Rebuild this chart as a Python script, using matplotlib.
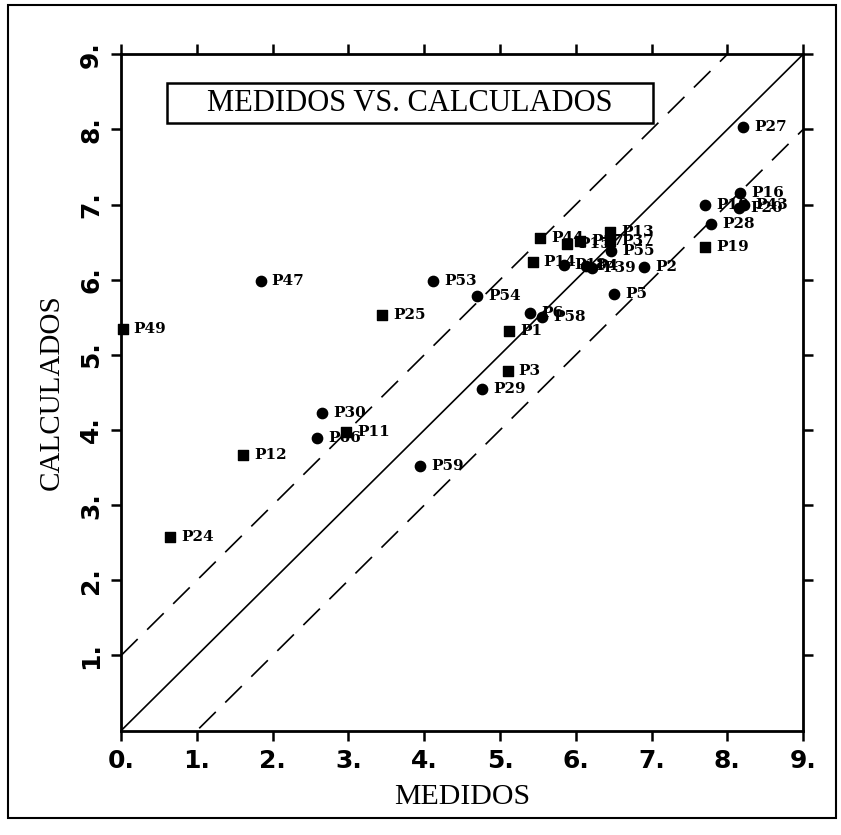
import numpy as np
import matplotlib.pyplot as plt
from matplotlib.patches import Rectangle

# medidos / calculados
labels = ['P49', 'P47', 'P24', 'P12', 'P30', 'P66', 'P11', 'P25', 'P53', 'P54',
          'P59', 'P29', 'P3', 'P1', 'P6', 'P58', 'P5', 'P2', 'P4', 'P39',
          'P14', 'P18', 'P44', 'P15', 'P17', 'P37', 'P13', 'P55',
          'P27', 'P16', 'P10', 'P43', 'P20', 'P28', 'P19']
medidos = [0.02, 1.84, 0.65, 1.61, 2.65, 2.59, 2.97, 3.44, 4.12, 4.70,
           3.94, 4.76, 5.10, 5.12, 5.40, 5.56, 6.50, 6.90, 6.13, 6.22,
           5.43, 5.84, 5.53, 5.88, 6.06, 6.45, 6.45, 6.47,
           8.21, 8.17, 7.71, 8.22, 8.15, 7.78, 7.71]
calculados = [5.35, 5.98, 2.58, 3.67, 4.22, 3.89, 3.97, 5.53, 5.98, 5.79,
              3.52, 4.55, 4.79, 5.32, 5.56, 5.51, 5.81, 6.17, 6.18, 6.16,
              6.23, 6.19, 6.56, 6.48, 6.52, 6.51, 6.64, 6.38,
              8.03, 7.15, 6.99, 7.00, 6.96, 6.74, 6.44]
# 's' = square-ish symbol, 'c' = round symbol
kind = ['s', 'c', 's', 's', 'c', 'c', 's', 's', 'c', 'c',
        'c', 'c', 's', 's', 'c', 'c', 'c', 'c', 'c', 'c',
        's', 'c', 's', 's', 's', 's', 's', 'c',
        'c', 'c', 'c', 'c', 'c', 'c', 's']

ticks = list(range(0, 10))
ref = np.array([0, 9])

tickfont = ['Liberation Sans Narrow', 'DejaVu Sans']

fig = plt.figure(figsize=(8.41, 8.35), dpi=100)
ax = fig.add_axes([0.144, 0.125, 0.811, 0.81])

ax.plot(ref, ref, color='black', lw=1.2)
ax.plot(ref, ref + 1, color='black', lw=1.2, dashes=(14, 8))
ax.plot(ref, ref - 1, color='black', lw=1.2, dashes=(14, 8))

med = np.array(medidos)
cal = np.array(calculados)
kd = np.array(kind)
ax.scatter(med[kd == 's'], cal[kd == 's'], marker='s', s=45, color='black', zorder=3, clip_on=False)
ax.scatter(med[kd == 'c'], cal[kd == 'c'], marker='o', s=55, color='black', zorder=3, clip_on=False)
for lab, x, y in zip(labels, medidos, calculados):
    ax.annotate(lab, (x, y), xytext=(8, 0), textcoords='offset points', va='center', ha='left',
                fontsize=11, family='DejaVu Serif', fontweight='bold')

ax.set_xlim(0, 9)
ax.set_ylim(0, 9)
ax.set_xticks(ticks)
ax.set_xticklabels([f'{t}.' for t in ticks])
ax.set_yticks(ticks[1:])
ax.set_yticklabels([f'{t}.' for t in ticks[1:]], rotation=90, va='center')
ax.tick_params(direction='out', length=7, width=1.8, top=True, right=True,
               labeltop=False, labelright=False, labelsize=18, pad=6)
for t in ax.get_xticklabels() + ax.get_yticklabels():
    t.set_fontweight('bold')
    t.set_family(tickfont)
for sp in ax.spines.values():
    sp.set_linewidth(2)

ax.set_xlabel('MEDIDOS', fontsize=21.5, family='Liberation Serif', labelpad=8)
ax.set_ylabel('CALCULADOS', fontsize=21, family='Liberation Serif', labelpad=10)

# title box inside the plot
ax.add_patch(Rectangle((0.067, 0.898), 0.713, 0.059, transform=ax.transAxes,
                       fill=False, lw=1.8, color='black', zorder=4))
ax.text(0.4235, 0.9275, 'MEDIDOS VS. CALCULADOS', transform=ax.transAxes, ha='center', va='center',
        fontsize=22, family='Liberation Serif')

# outer frame
fig.patches.append(Rectangle((0.0095, 0.0204), 0.985, 0.974, transform=fig.transFigure,
                             fill=False, lw=1.5, color='black'))

fig.savefig('out.png', dpi=100)
